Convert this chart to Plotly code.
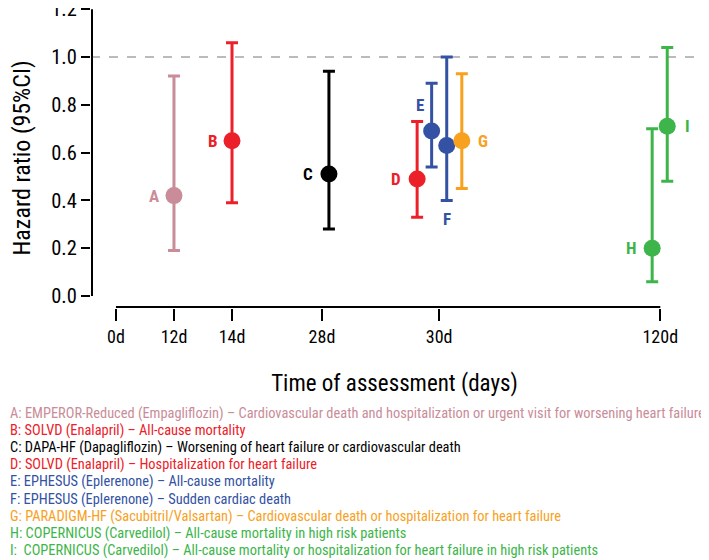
import plotly.graph_objects as go

# ---- data ----
letters = ["A", "B", "C", "D", "E", "F", "G", "H", "I"]
timepoints = ["12d", "14d", "28d", "30d", "30d", "30d", "30d", "120d", "120d"]
hr = [0.42, 0.65, 0.51, 0.49, 0.69, 0.63, 0.65, 0.20, 0.71]
ci_low = [0.19, 0.39, 0.28, 0.33, 0.54, 0.40, 0.45, 0.06, 0.48]
ci_high = [0.92, 1.06, 0.94, 0.73, 0.89, 1.00, 0.93, 0.70, 1.04]
colors = ["#C98C98", "#EC2028", "#000000", "#EC2028", "#3352A3", "#3352A3",
          "#F7A11E", "#3DB54A", "#3DB54A"]
descriptions = [
    "A: EMPEROR-Reduced (Empagliflozin) \u2013 Cardiovascular death and hospitalization or urgent visit for worsening heart failure",
    "B: SOLVD (Enalapril) \u2013 All-cause mortality",
    "C: DAPA-HF (Dapagliflozin) \u2013 Worsening of heart failure or cardiovascular death",
    "D: SOLVD (Enalapril) \u2013 Hospitalization for heart failure",
    "E: EPHESUS (Eplerenone) \u2013 All-cause mortality",
    "F: EPHESUS (Eplerenone) \u2013 Sudden cardiac death",
    "G: PARADIGM-HF (Sacubitril/Valsartan) \u2013 Cardiovascular death or hospitalization for heart failure",
    "H: COPERNICUS (Carvedilol) \u2013 All-cause mortality in high risk patients",
    "I:  COPERNICUS (Carvedilol) \u2013 All-cause mortality or hospitalization for heart failure in high risk patients",
]
tick_labels = ["0d", "12d", "14d", "28d", "30d", "120d"]
y_ticks = [0, 0.2, 0.4, 0.6, 0.8, 1.0, 1.2]

# ---- layout helpers (positions along the ordinal time axis) ----
tick_pos = {"0d": 0.0, "12d": 1.0, "14d": 2.0, "28d": 3.55, "30d": 5.57, "120d": 9.38}
dodge = [0.0, 0.0, 0.12, -0.38, -0.13, 0.13, 0.39, -0.14, 0.12]
x_pos = [tick_pos[t] + d for t, d in zip(timepoints, dodge)]

# label placement (xshift, yshift, anchor y choice)
lab_shift = {
    "A": (-20, 0, "hr"), "B": (-19, 0, "hr"), "C": (-21, 0, "hr"),
    "D": (-21, 0, "hr"), "E": (-12, 26, "hr"), "F": (0, -19, "low"),
    "G": (21, 0, "hr"), "H": (-21, 0, "hr"), "I": (20, 0, "hr"),
}

FONT = "Roboto Condensed, Liberation Sans Narrow, Arial Narrow, sans-serif"

# The page body keeps its default 8px margin, so the figure is 8px smaller
# and all pixel geometry is expressed relative to a page offset of 8px.
OFF = 8
FIG_W, FIG_H = 709 - OFF, 560 - OFF
plot_top, plot_bottom = 8, 308          # page pixels
plot_left, plot_right = 91, 698          # page pixels
xr = [-0.43, 10.03]
yr = [(296 - plot_bottom) / 239.0, (296 - plot_top) / 239.0]
px_per_x = (plot_right - plot_left) / (xr[1] - xr[0])
px_per_y = (plot_bottom - plot_top) / (yr[1] - yr[0])

fig = go.Figure()

# axis lines (R style, spanning only the tick range), kept just inside the plot area
y_line_x = xr[0] + 1.0 / px_per_x
x_line_y = yr[0] + 1.0 / px_per_y
fig.add_trace(go.Scatter(x=[y_line_x, y_line_x], y=[y_ticks[0], y_ticks[-1]], mode="lines",
                         line=dict(color="black", width=2), showlegend=False, hoverinfo="skip"))
fig.add_trace(go.Scatter(x=[tick_pos["0d"], tick_pos["120d"]], y=[x_line_y, x_line_y], mode="lines",
                         line=dict(color="black", width=2), showlegend=False, hoverinfo="skip"))

for i, L in enumerate(letters):
    fig.add_trace(go.Scatter(
        x=[x_pos[i]], y=[hr[i]], mode="markers",
        marker=dict(size=17, color=colors[i]),
        error_y=dict(type="data", symmetric=False,
                     array=[ci_high[i] - hr[i]], arrayminus=[hr[i] - ci_low[i]],
                     color=colors[i], thickness=3, width=6),
        showlegend=False, hoverinfo="skip",
    ))
    xs, ys, which = lab_shift[L]
    fig.add_annotation(
        x=x_pos[i], y=hr[i] if which == "hr" else ci_low[i],
        text=f"<b>{L}</b>", showarrow=False, xshift=xs, yshift=ys,
        font=dict(family=FONT, size=17, color=colors[i]),
    )

# reference line at HR = 1
fig.add_shape(type="line", xref="paper", x0=0, x1=1, yref="y", y0=1, y1=1,
              line=dict(color="#BBBBBB", width=2, dash="dash"), layer="below")

# descriptions below the chart
for i, txt in enumerate(descriptions):
    py = 413 + i * 17.2
    fig.add_annotation(
        xref="paper", yref="paper",
        x=(8 - plot_left) / (plot_right - plot_left),
        y=(plot_bottom - py) / (plot_bottom - plot_top),
        xanchor="left", yanchor="middle", showarrow=False, text=txt,
        font=dict(family=FONT, size=14.4, color=colors[i]),
    )

fig.update_layout(
    width=FIG_W, height=FIG_H,
    margin=dict(l=plot_left - OFF, r=709 - plot_right, t=plot_top - OFF, b=560 - plot_bottom),
    paper_bgcolor="white", plot_bgcolor="white",
    font=dict(family=FONT, color="black"),
    modebar=dict(bgcolor="rgba(0,0,0,0)", color="rgba(0,0,0,0)", activecolor="rgba(0,0,0,0)"),
    xaxis=dict(
        range=xr, showgrid=False, zeroline=False, showline=False,
        automargin=False, ticklabeloverflow="allow",
        tickmode="array", tickvals=[tick_pos[t] for t in tick_labels], ticktext=tick_labels,
        ticks="outside", ticklen=12, tickwidth=2, tickcolor="black",
        tickfont=dict(size=18, family=FONT, color="black"),
        title=dict(text="Time of assessment (days)", font=dict(size=23, family=FONT), standoff=29),
    ),
    yaxis=dict(
        range=yr, showgrid=False, zeroline=False, showline=False,
        automargin=False, ticklabeloverflow="allow",
        tickmode="array", tickvals=y_ticks,
        ticktext=[f"{v:.1f}" for v in y_ticks],
        ticks="outside", ticklen=9, tickwidth=2, tickcolor="black",
        tickfont=dict(size=20.5, family=FONT, color="black"),
        title=dict(text="Hazard ratio (95%CI)", font=dict(size=24, family=FONT), standoff=19),
    ),
)

fig.write_html("out.html")
